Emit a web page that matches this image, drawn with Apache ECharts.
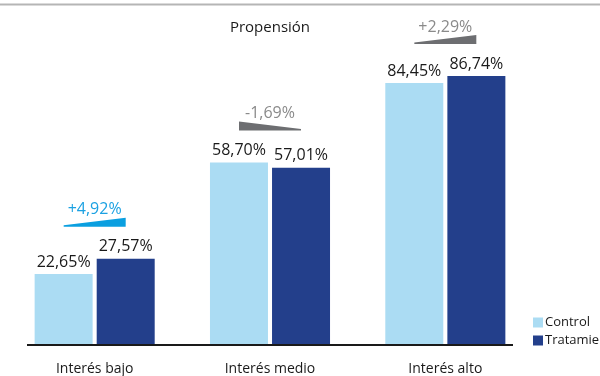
<!DOCTYPE html>
<html><head><meta charset="utf-8">
<script src="https://cdn.jsdelivr.net/npm/echarts@6/dist/echarts.min.js"></script>
<style>html,body{margin:0;padding:0;background:#fff}#c{width:600px;height:376px}</style>
</head><body><div id="c"></div>
<script>
const categories = ['Interés bajo', 'Interés medio', 'Interés alto'];
const controlValues = [22.65, 58.70, 84.45];
const tratamientoValues = [27.57, 57.01, 86.74];
const seriesNames = ['Control', 'Tratamiento'];
const titleText = 'Propensión';

const FONT = '"Open Sans", sans-serif';
const fmt = v => v.toFixed(2).replace('.', ',') + '%';
const fmtDelta = v => (v > 0 ? '+' : '') + v.toFixed(2).replace('.', ',') + '%';
const deltaRows = categories.map((c, i) => [i, controlValues[i], tratamientoValues[i]]);

const chart = echarts.init(document.getElementById('c'), null, {renderer: 'canvas'});
chart.setOption({
  animation: false,
  backgroundColor: '#fff',
  title: {text: titleText, left: 265, top: 15, textAlign: 'center',
    textStyle: {fontFamily: FONT, fontSize: 15, fontWeight: 'normal', color: '#1a1a1a'}},
  legend: {orient: 'vertical', left: 533, top: 316, padding: 0, itemWidth: 10, itemHeight: 10, itemGap: 5,
    icon: 'rect', textStyle: {fontFamily: FONT, fontSize: 13, color: '#1a1a1a', padding: [0,0,0,-3]},
    data: seriesNames},
  grid: {left: 7, right: 67, top: 35, bottom: 31, containLabel: false},
  xAxis: {type: 'category', data: categories,
    axisLine: {show: false}, axisTick: {show: false},
    axisLabel: {margin: 18, fontFamily: FONT, fontSize: 14, color: '#1a1a1a'}},
  yAxis: {type: 'value', min: 0, max: 100, show: false, splitLine: {show: false}},
  graphic: [
    {type: 'line', shape: {x1: 0, y1: 4.5, x2: 600, y2: 4.5}, style: {stroke: '#b5b5b5', lineWidth: 2}},
    {type: 'line', shape: {x1: 27, y1: 345, x2: 513, y2: 345}, style: {stroke: '#1a1a1a', lineWidth: 2}, z: 10}
  ],
  series: [
    {name: seriesNames[0], type: 'bar', data: controlValues, barWidth: 58, barGap: '7%',
      itemStyle: {color: '#abdcf3'},
      label: {show: true, position: 'top', distance: 4, formatter: p => fmt(p.value),
        fontFamily: FONT, fontSize: 16, color: '#1a1a1a'}},
    {name: seriesNames[1], type: 'bar', data: tratamientoValues, barWidth: 58, barGap: '7%',
      itemStyle: {color: '#233f8b'},
      label: {show: true, position: 'top', distance: 4, formatter: p => fmt(p.value),
        fontFamily: FONT, fontSize: 16, color: '#1a1a1a'}},
    {type: 'custom', data: deltaRows, z: 5,
      renderItem: (params, api) => {
        const i = api.value(0), c = api.value(1), t = api.value(2);
        const d = Math.round((t - c) * 100) / 100;
        const p = api.coord([i, Math.max(c, t)]);
        const cx = p[0], yb = p[1] - 32;
        const x0 = cx - 31, x1 = cx + 31;
        const pos = d > 0;
        const fill = i === 0 ? '#0a9fe0' : '#6d6e71';
        const tcol = i === 0 ? '#1ba1e2' : '#8a8a8a';
        const pts = pos ? [[x0, yb], [x1, yb], [x1, yb - 9], [x0, yb - 1.5]]
                        : [[x0, yb], [x1, yb], [x1, yb - 1.5], [x0, yb - 9]];
        return {type: 'group', children: [
          {type: 'polygon', shape: {points: pts}, style: {fill: fill}},
          {type: 'text', style: {text: fmtDelta(d), x: cx, y: yb - 17, align: 'center', verticalAlign: 'middle',
            fill: tcol, font: '16px ' + FONT}}
        ]};
      }}
  ]
});
</script></body></html>
